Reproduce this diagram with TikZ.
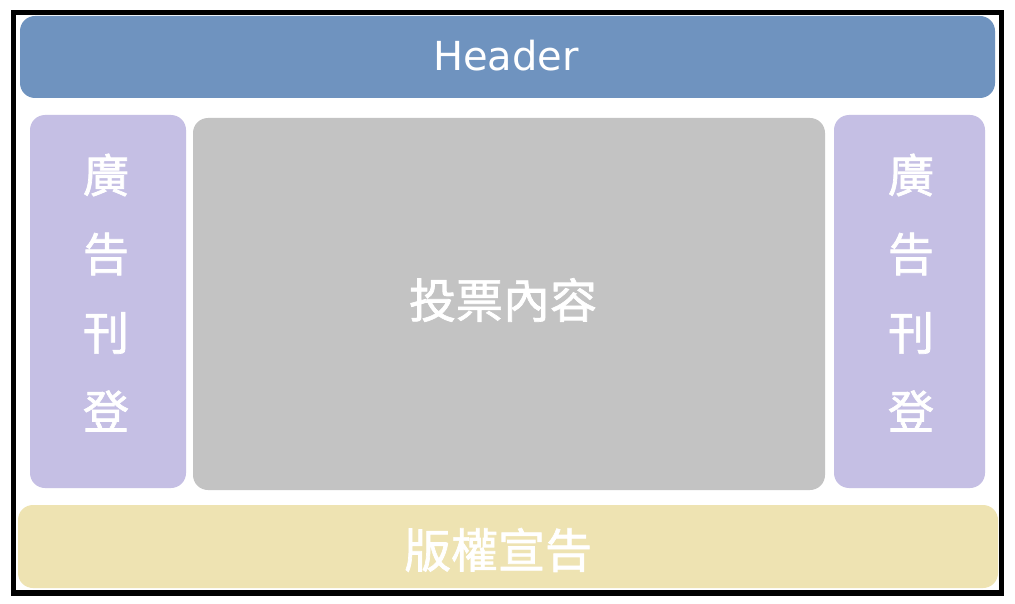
\documentclass[tikz,border=0pt]{standalone}
\usepackage{fontspec}
\newfontfamily\cjk[FakeBold=1.5]{Noto Sans CJK TC}
\newfontfamily\hdr{DejaVu Sans}
\definecolor{hdrblue}{HTML}{6F93BF}
\definecolor{adpurple}{HTML}{C5BFE4}
\definecolor{maingray}{HTML}{C3C3C3}
\definecolor{footyellow}{HTML}{EEE3B2}
\tikzset{
  x=1pt,y=-1pt,
  panel/.style={rounded corners=15pt, draw=none},
  cjktext/.style={text=white, font=\cjk\fontsize{47}{50}\selectfont, inner sep=0pt},
  adchar/.style={text=white, font=\cjk\fontsize{46}{50}\selectfont, inner sep=0pt}
}
\begin{document}
\begin{tikzpicture}
\useasboundingbox (0,0) rectangle (1015,604);
\fill[white] (0,0) rectangle (1015,604);
% outer frame
\draw[line width=5.5pt] (13.5,12.75) rectangle (1001.5,593);
% panels
\fill[panel, hdrblue] (20,16) rectangle (995,98);
\fill[panel, adpurple] (30,115) rectangle (186,488);
\fill[panel, maingray] (193,118) rectangle (825,490);
\fill[panel, adpurple] (834,115) rectangle (985,488);
\fill[panel, footyellow] (18,505) rectangle (998,588);
% texts
\node[text=white, font=\hdr\fontsize{40}{44}\selectfont, inner sep=0pt] (header) at (506,56) {Header};
\node[cjktext] (main) at (503,300) {投票內容};
\node[cjktext] (footer) at (498,550) {版權宣告};
\node[adchar] (l1) at (106,175) {廣};
\node[adchar] (l2) at (106,254) {告};
\node[adchar] (l3) at (106,333) {刊};
\node[adchar] (l4) at (106,411) {登};
\node[adchar] (r1) at (911,175) {廣};
\node[adchar] (r2) at (911,254) {告};
\node[adchar] (r3) at (911,333) {刊};
\node[adchar] (r4) at (911,411) {登};
\end{tikzpicture}
\end{document}
